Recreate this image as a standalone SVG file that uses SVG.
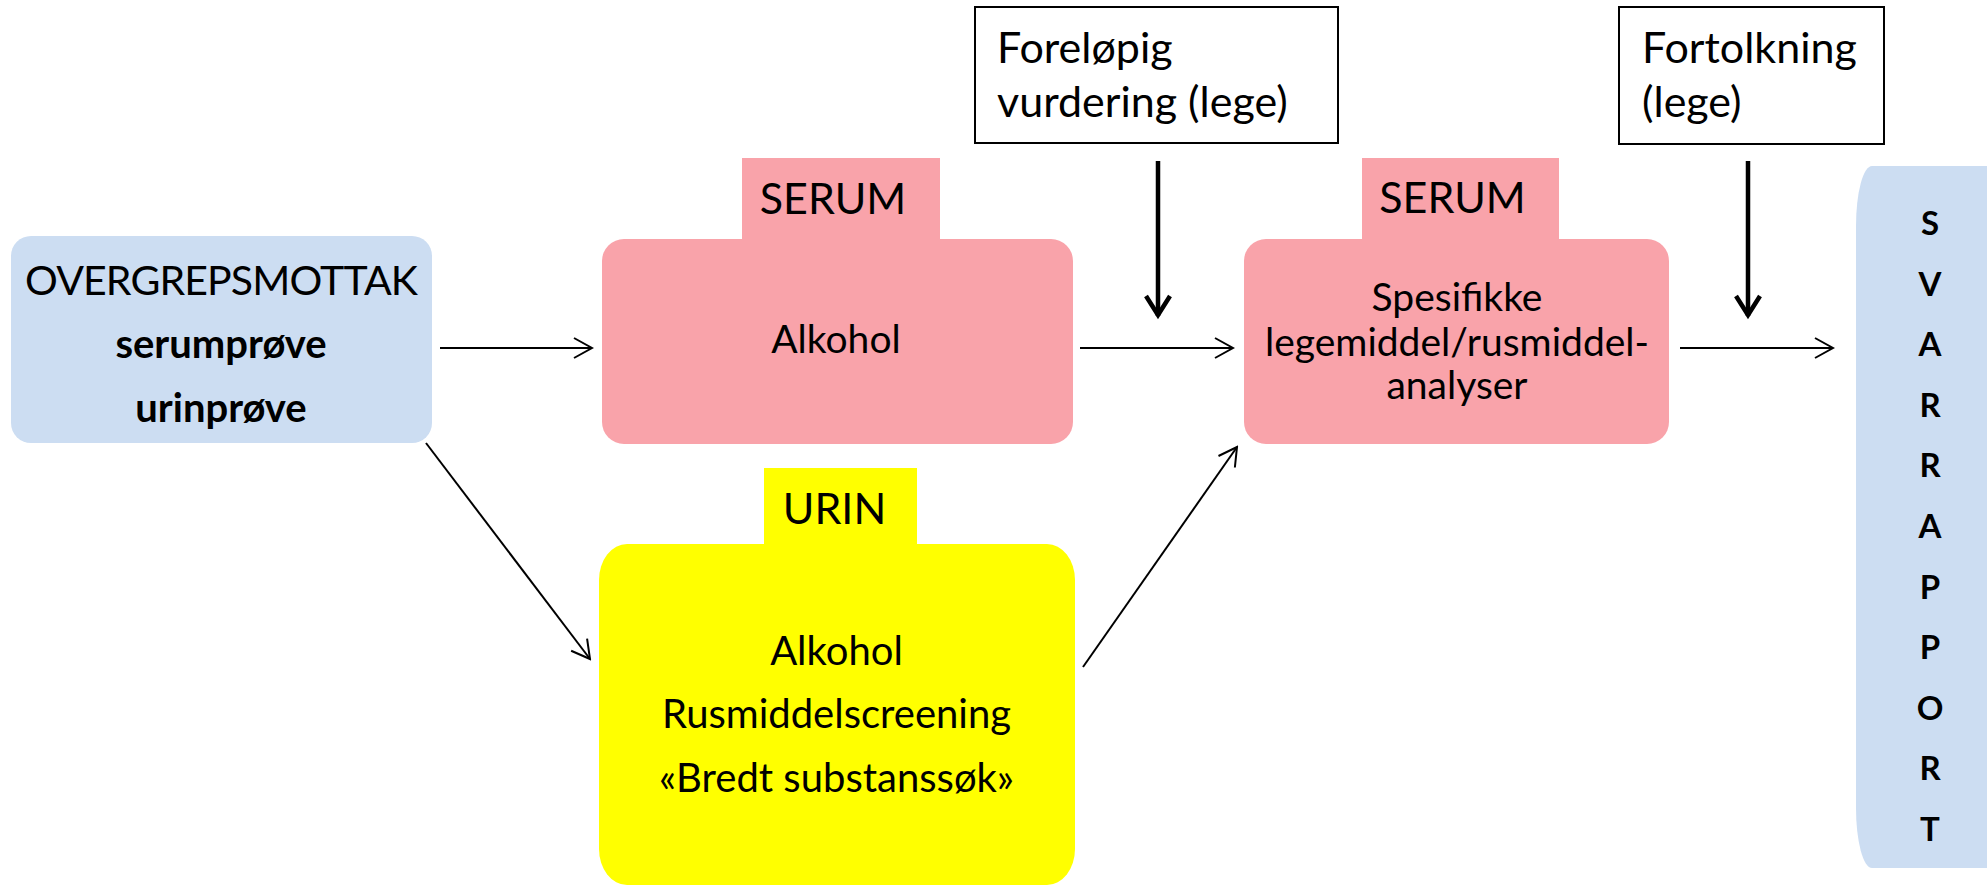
<svg xmlns="http://www.w3.org/2000/svg" width="1987" height="886" viewBox="0 0 1987 886">
  <style>
    text { font-family: Lato, "Liberation Sans", sans-serif; fill: #000; }
    .big { font-size: 43px; }
    .mid { font-size: 39px; }
    .ylw { font-size: 40px; }
    .c { text-anchor: middle; }
    .b { font-weight: bold; }
    .svar { font-size: 33px; font-weight: bold; text-anchor: middle; }
    .blue { fill: #CCDDF2; }
    .pink { fill: #F9A3AA; }
    .yellow { fill: #FFFF00; }
    .note { fill: #FFFFFF; stroke: #000; stroke-width: 2; }
    .thin { stroke: #000; stroke-width: 2; fill: none; marker-end: url(#arrThin); }
    .thick { stroke: #000; stroke-width: 4.5; fill: none; marker-end: url(#arrThick); }
  </style>
  <defs>
    <marker id="arrThin" viewBox="-22 -12 24 24" refX="0" refY="0" markerWidth="24" markerHeight="24" orient="auto" markerUnits="userSpaceOnUse">
      <path d="M-18,-10 L0,0 L-18,10" fill="none" stroke="#000" stroke-width="2"/>
    </marker>
    <marker id="arrThick" viewBox="-26 -16 30 32" refX="0" refY="0" markerWidth="30" markerHeight="32" orient="auto" markerUnits="userSpaceOnUse">
      <path d="M-20,-12 L-1,0 L-20,12" fill="none" stroke="#000" stroke-width="4.5"/>
    </marker>
  </defs>

  <g id="overgrepsmottak">
    <rect class="blue" x="11" y="236" width="421" height="207" rx="20"/>
    <text class="c" style="font-size:41px" x="221.5" y="295" textLength="393" lengthAdjust="spacing">OVERGREPSMOTTAK</text>
    <text class="c b" style="font-size:40px" x="221" y="358">serumprøve</text>
    <text class="c b" style="font-size:40px" x="221" y="422">urinprøve</text>
  </g>

  <g id="serum-alkohol">
    <rect class="pink" x="742" y="158" width="198" height="82"/>
    <rect class="pink" x="602" y="239" width="471" height="205" rx="22"/>
    <text class="big c" x="833" y="214">SERUM</text>
    <text class="mid c" x="836" y="353">Alkohol</text>
  </g>

  <g id="urin">
    <rect class="yellow" x="764" y="468" width="153" height="78"/>
    <rect class="yellow" x="599" y="544" width="476" height="341" rx="28" ry="36"/>
    <text class="big c" x="834.5" y="524">URIN</text>
    <text class="ylw c" x="836.5" y="665">Alkohol</text>
    <text class="ylw c" x="836.5" y="728">Rusmiddelscreening</text>
    <text class="ylw c" x="836.5" y="792">«Bredt substanssøk»</text>
  </g>

  <g id="forelopig">
    <rect class="note" x="975" y="7" width="363" height="136"/>
    <text class="big" x="997" y="63">Foreløpig</text>
    <text class="big" x="997" y="117">vurdering (lege)</text>
  </g>

  <g id="serum-spesifikke">
    <rect class="pink" x="1362" y="158" width="197" height="82"/>
    <rect class="pink" x="1244" y="239" width="425" height="205" rx="22"/>
    <text class="big c" x="1452.5" y="213">SERUM</text>
    <text class="mid c" x="1457" y="311">Spesifikke</text>
    <text class="mid c" x="1457" y="356">legemiddel/rusmiddel-</text>
    <text class="mid c" x="1457" y="399">analyser</text>
  </g>

  <g id="fortolkning">
    <rect class="note" x="1619" y="7" width="265" height="137"/>
    <text class="big" x="1642" y="63">Fortolkning</text>
    <text class="big" x="1642" y="117">(lege)</text>
  </g>

  <g id="svarrapport">
    <rect class="blue" x="1856" y="166" width="180" height="702" rx="16" ry="60"/>
    <text class="svar" x="1930" y="235">S</text>
    <text class="svar" x="1930" y="296">V</text>
    <text class="svar" x="1930" y="356">A</text>
    <text class="svar" x="1930" y="417">R</text>
    <text class="svar" x="1930" y="477">R</text>
    <text class="svar" x="1930" y="538">A</text>
    <text class="svar" x="1930" y="599">P</text>
    <text class="svar" x="1930" y="659">P</text>
    <text class="svar" x="1930" y="720">O</text>
    <text class="svar" x="1930" y="780">R</text>
    <text class="svar" x="1930" y="841">T</text>
  </g>

  <g id="connectors">
    <line class="thin" x1="440" y1="348" x2="592" y2="348"/>
    <line class="thin" x1="426" y1="443" x2="590" y2="659"/>
    <line class="thin" x1="1080" y1="348" x2="1233" y2="348"/>
    <line class="thin" x1="1083" y1="667" x2="1237" y2="447"/>
    <line class="thin" x1="1680" y1="348" x2="1833" y2="348"/>
    <line class="thick" x1="1158" y1="161" x2="1158" y2="316"/>
    <line class="thick" x1="1748" y1="161" x2="1748" y2="316"/>
  </g>
</svg>
